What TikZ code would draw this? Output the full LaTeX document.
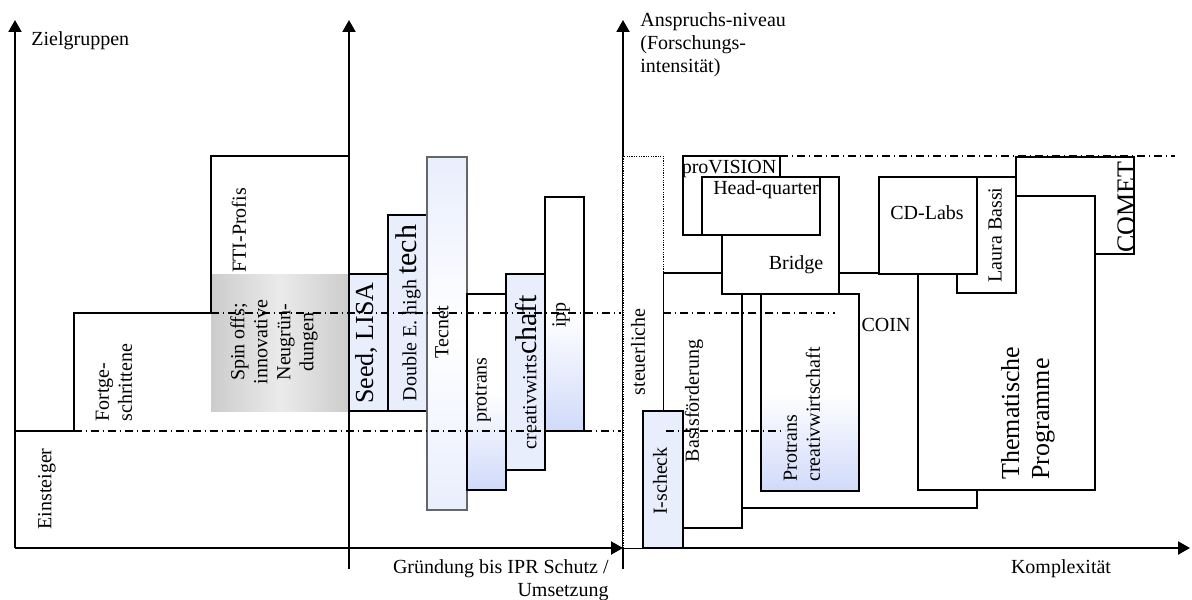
\documentclass[tikz,border=0pt]{standalone}
\usepackage{fontspec}
\setmainfont{Liberation Serif}
\usetikzlibrary{arrows.meta}

\definecolor{dotblue}{RGB}{233,238,253}
\definecolor{fadeblue}{RGB}{208,218,250}

\tikzset{
  axis/.style={line width=1pt, -{Triangle[length=6pt,width=6.5pt]}},
  prog/.style={draw, line width=0.6pt, fill=white},
  progblue/.style={prog, fill=dotblue},
  progfade/.style={prog, top color=white, bottom color=fadeblue, middle color=white},
  progends/.style={prog, top color=dotblue, bottom color=dotblue, middle color=white},
  guide/.style={line width=0.6pt, dash pattern=on 4pt off 1.8pt on 0.9pt off 1.8pt},
  vlabel/.style={rotate=90, inner sep=0pt},
  big/.style={font=\fontsize{13}{15}\selectfont},
}

\begin{document}
\begin{tikzpicture}[x=0.5pt, y=-0.5pt, font=\fontsize{10}{11.5}\selectfont]
\useasboundingbox (0,0) rectangle (1192,599);

% axes
\draw [axis] (15,548) -- (15,20);
\draw [axis] (349,569) -- (349,20);
\draw [axis] (15,548) -- (623,548);
\draw [line width=1pt] (623,548) -- (623,569);
\draw [axis] (623,548) -- (623,20);
\draw [axis] (623,548) -- (1190,548);

\node [anchor=west, inner sep=0pt] (ziel) at (31,41) {Zielgruppen};
\node [anchor=north west, align=left, inner sep=0pt] (anspruch) at (640,12)
  {Anspruchs-niveau\\(Forschungs-\\intensität)};
\node [anchor=north east, align=right, inner sep=0pt] (gruendung) at (609,559)
  {Gründung bis IPR Schutz /\\Umsetzung};
\node (komplex) at (1061,569) {Komplexität};

% target groups
\shade [left color=gray!40, right color=gray!40, middle color=gray!16] (211,274) rectangle (349,411);
\draw [line width=0.6pt] (15,431) -- (74,431) -- (74,313) -- (211,313) -- (211,156) -- (349,156);
\node [vlabel] (einsteiger) at (47,489) {Einsteiger};
\node [vlabel, anchor=west, align=left] (fortge) at (114,422) {Fortge-\\schrittene};
\node [vlabel, anchor=west] (profis) at (239,273) {FTI-Profis};
\node [vlabel, align=center] (spinoff) at (274,342) {Spin offs;\\innovative\\Neugrün-\\dungen};

% founding programmes
\draw [progblue] (349,274) rectangle (388,411);
\draw [progblue] (388,215) rectangle (427,411);
\draw [progends, draw=gray!80!black] (427,157) rectangle (467,510);
\draw [progfade] (467,294) rectangle (506,490);
\draw [progblue] (506,274) rectangle (545,470);
\draw [progfade] (545,197) rectangle (584,431);
\node [vlabel, big] (seed) at (366,343) {Seed, LISA};
\node [vlabel] (double) at (408,313) {Double E. high {\fontsize{15}{17}\selectfont tech}};
\node [vlabel] (tecnet) at (442,332) {Tecnet};
\node [vlabel] (protrans) at (483,390) {protrans};
\node [vlabel] (creativ) at (526,372) {creativwirts{\fontsize{15}{17}\selectfont chaft}};
\node [vlabel] (ipp) at (561,315) {ipp};

% research programmes
\draw [prog] (663,273) rectangle (742,528);
\draw [prog] (742,273) rectangle (977,508);
\draw [prog] (1016,157) rectangle (1134,254);
\draw [prog] (918,196) rectangle (1095,490);
\draw [prog] (957,177) rectangle (1016,293);
\draw [prog] (879,177) rectangle (977,274);
\draw [progfade] (761,294) rectangle (859,491);
\draw [prog] (722,177) rectangle (839,294);
\draw [prog] (683,156) rectangle (780,235);
\draw [prog] (702,177) rectangle (820,235);
\draw [fill=white, line width=0.5pt, dash pattern=on 0.6pt off 0.6pt] (623,156) rectangle (663,548);
\draw [progblue] (643,411) rectangle (683,548);

\node [vlabel] (steuer) at (638,352) {steuerliche};
\node [vlabel] (ischeck) at (660,481) {I-scheck};
\node [vlabel] (basis) at (694,401) {Basisförderung};
\node [vlabel, anchor=west, align=left] (protranscw) at (802,482) {Protrans\\creativwirtschaft};
\node (coin) at (886,325) {COIN};
\node (bridge) at (796,265) {Bridge};
\node (hq) at (766,190) {Head-quarter};
\node (provision) at (729,169) {proVISION};
\node (cdlabs) at (927,213) {CD-Labs};
\node [vlabel] (bassi) at (995,235) {Laura Bassi};
\node [vlabel, big, anchor=west, align=left] (thema) at (1028,480) {Thematische\\Programme};
\node [vlabel, big] (comet) at (1126,207) {COMET};

% level lines
\draw [guide] (211,313) -- (621,313);
\draw [guide] (663,313) -- (835,313);
\draw [guide] (74,431) -- (621,431);
\draw [guide] (666,431) -- (785,431);
\draw [guide] (780,156) -- (1175,156);

\end{tikzpicture}
\end{document}
